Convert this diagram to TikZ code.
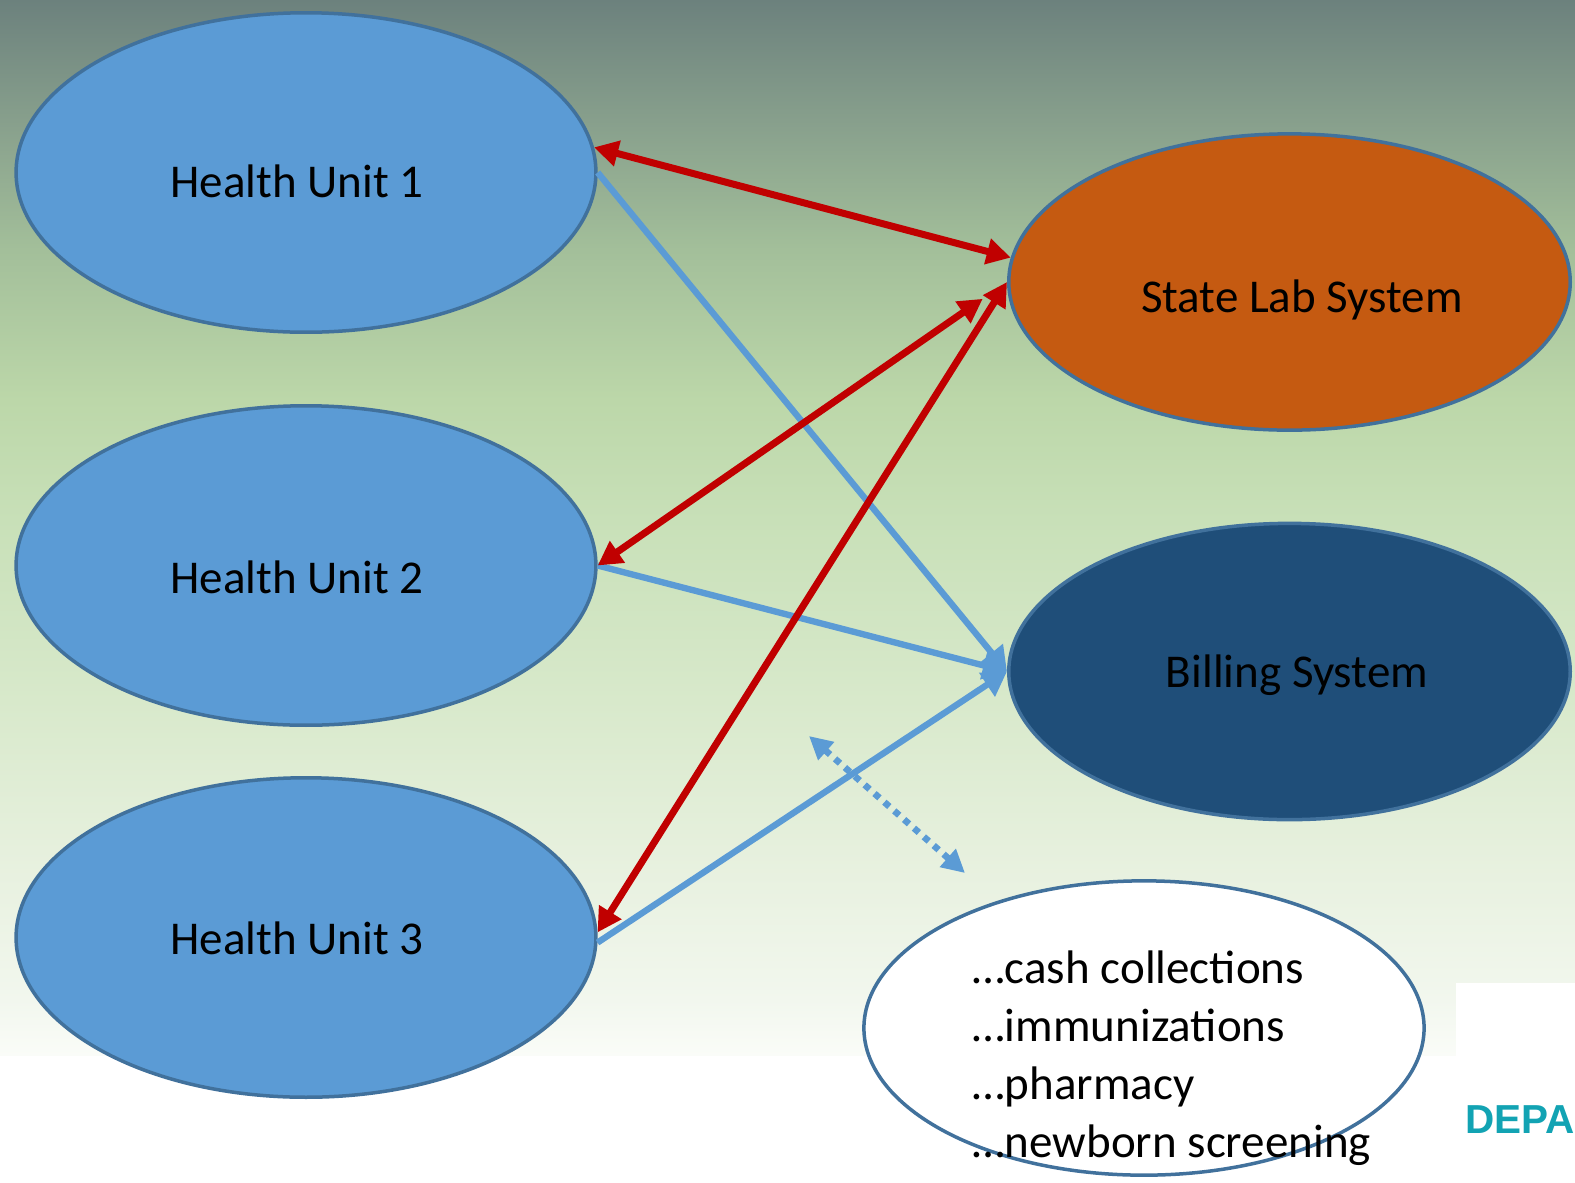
\documentclass[tikz,border=0pt]{standalone}
\usepackage{fontspec}
\setmainfont{Carlito}
\newfontfamily\depfont{Liberation Sans}
\usetikzlibrary{arrows.meta,shapes.geometric,calc}
\definecolor{hublue}{HTML}{5B9BD5}
\definecolor{edgeblue}{HTML}{41719C}
\definecolor{laborange}{HTML}{C55A11}
\definecolor{billblue}{HTML}{1F4E79}
\definecolor{arrred}{HTML}{C00000}
\definecolor{depteal}{HTML}{12A3B3}
\definecolor{ga}{HTML}{6C817D}
\definecolor{gb}{HTML}{879F8C}
\definecolor{gc}{HTML}{A3BF9A}
\definecolor{gd}{HTML}{BCD7A9}
\definecolor{ge}{HTML}{C8E0B8}
\definecolor{gf}{HTML}{D8E9CB}
\definecolor{gg}{HTML}{E6F0DD}
\definecolor{gh}{HTML}{F2F7EE}
\definecolor{gi}{HTML}{FAFCF8}
\pgfdeclareverticalshading{bgshade}{100bp}{color(0bp)=(gi); color(25bp)=(gi); color(27.61bp)=(gh); color(34.72bp)=(gg); color(41.82bp)=(gf); color(50.36bp)=(ge); color(56.04bp)=(gd); color(63.15bp)=(gc); color(69.31bp)=(gb); color(75bp)=(ga); color(100bp)=(ga)}
\tikzset{
  unitbox/.style={ellipse, draw=edgeblue, line width=1.6pt, fill=hublue, minimum width=265pt, minimum height=146pt, inner sep=0pt},
  sysbox/.style={ellipse, draw=edgeblue, line width=1.6pt, minimum width=256.6pt, minimum height=135.4pt, inner sep=0pt},
  lbl/.style={font=\fontsize{21.5}{26}\selectfont, anchor=base, inner sep=0pt},
  listlbl/.style={font=\fontsize{21.5}{26}\selectfont, anchor=base west, inner sep=0pt},
  redarr/.style={draw=arrred, line width=3.2pt, {Triangle[length=11pt,width=11.5pt]}-{Triangle[length=11pt,width=11.5pt]}},
  bluearr/.style={draw=hublue, line width=2.9pt, -{Triangle[length=11pt,width=12.5pt]}},
  dotarr/.style={draw=hublue, line width=3pt, dash pattern=on 3pt off 3pt, {Triangle[length=10.5pt,width=10.5pt]}-{Triangle[length=10.5pt,width=10.5pt]}}
}
\begin{document}
\begin{tikzpicture}[x=0.457pt,y=-0.457pt]
\useasboundingbox (0,0) rectangle (1575,1182);
\fill[white] (0,0) rectangle (1575,1182);
\shade[shading=bgshade] (0,0) rectangle (1575,1055);
\fill[white] (1456,983) rectangle (1575,1182);
\node[anchor=base west, inner sep=0pt, text=depteal, font=\depfont\bfseries\fontsize{18.5}{22}\selectfont] (dep) at (1465,1133) {DEPAR};

% ellipses
\node[unitbox] (hu1) at (306,172.5) {};
\node[unitbox] (hu2) at (306,565.5) {};
\node[unitbox] (hu3) at (306,937.5) {};
\node[sysbox, fill=laborange] (lab) at (1289.5,282) {};
\node[sysbox, fill=billblue] (bill) at (1289.5,671.5) {};
\node[sysbox, fill=white, minimum width=256pt, minimum height=134.5pt] (list) at (1144,1028) {};

% dotted double arrow
\coordinate (d1) at (809,736);
\coordinate (d2) at (965,873);
\draw[dotarr] (d1) -- (d2);

% blue connectors
\draw[bluearr] (hu1.east) -- (bill.west);
\draw[bluearr] (hu2.east) -- (bill.west);
\draw[bluearr] (hu3.-1.5) -- (bill.west);

% red connectors
\draw[redarr] (hu1.5.6) -- (lab.175);
\draw[redarr, shorten >=13.5pt] (hu2.east) -- (lab.west);
\draw[redarr] (hu3.1) -- (lab.west);

% labels
\node[lbl] (t1) at (297,197) {Health Unit 1};
\node[lbl] (t2) at (297,593) {Health Unit 2};
\node[lbl] (t3) at (297,954) {Health Unit 3};
\node[lbl] (tlab) at (1302,312) {State Lab System};
\node[lbl] (tbill) at (1297,687) {Billing System};
\node[listlbl] (l1) at (972,983) {…cash collections};
\node[listlbl] (l2) at (972,1041) {…immunizations};
\node[listlbl] (l3) at (972,1099) {…pharmacy};
\node[listlbl] (l4) at (972,1157) {…newborn screening};
\end{tikzpicture}
\end{document}
